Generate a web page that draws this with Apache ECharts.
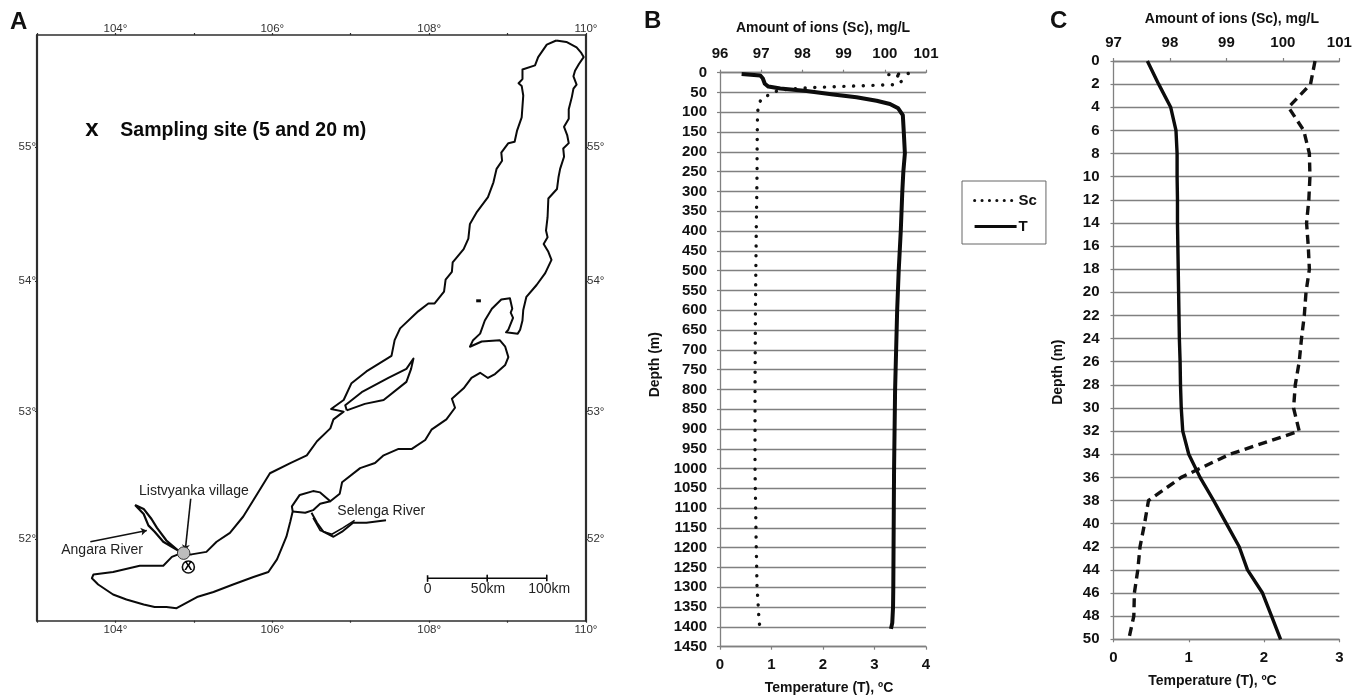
<!DOCTYPE html>
<html>
<head>
<meta charset="utf-8">
<style>html,body{margin:0;padding:0;background:#fff}#c{width:1365px;height:697px}</style>
<script src="https://cdn.jsdelivr.net/npm/echarts@6/dist/echarts.min.js"></script>
</head>
<body>
<div id="c"></div>
<script>
// ---------- Panel A : map (degrees) ----------
const lonTicks = [103,104,105,106,107,108,109,110];
const latTicks = [52,53,54,55];
const lakeLon = [109.62,109.75,109.88,109.94,109.97,109.91,109.86,109.84,109.88,109.84,109.82,109.78,109.78,109.72,109.76,109.78,109.71,109.72,109.67,109.65,109.63,109.52,109.51,109.49,109.51,109.46,109.52,109.56,109.48,109.37,109.24,109.20,109.19,109.16,109.13,108.98,109.01,109.07,109.04,109.06,109.03,108.92,108.80,108.71,108.65,108.56,108.52,108.67,108.90,108.97,109.01,108.97,108.84,108.75,108.65,108.54,108.44,108.29,108.33,108.22,108.03,107.95,107.78,107.61,107.42,107.31,107.12,106.89,106.86,106.74,106.61,106.52,106.35,106.25,106.26,106.23,106.18,106.12,106.06,105.95,105.76,105.50,105.25,105.04,104.78,104.65,104.50,104.36,104.14,103.97,103.78,103.70,103.72,103.97,104.31,104.61,104.72,104.80,104.97,105.16,105.29,105.46,105.63,105.78,105.97,106.23,106.44,106.57,106.74,106.78,106.91,106.75,106.91,107.01,107.20,107.52,107.56,107.63,107.86,107.99,108.07,108.19,108.21,108.29,108.30,108.44,108.50,108.52,108.61,108.75,108.82,108.86,108.93,108.92,109.01,109.09,109.12,109.18,109.20,109.18,109.14,109.19,109.19,109.35,109.39,109.50,109.62];
const lakeLat = [55.78,55.77,55.73,55.69,55.66,55.61,55.56,55.52,55.46,55.43,55.37,55.28,55.21,55.15,55.09,55.03,54.99,54.93,54.84,54.78,54.69,54.62,54.48,54.38,54.33,54.28,54.22,54.16,54.06,53.97,53.88,53.78,53.70,53.63,53.60,53.61,53.63,53.72,53.76,53.79,53.87,53.86,53.79,53.70,53.60,53.55,53.50,53.54,53.55,53.50,53.42,53.36,53.29,53.26,53.30,53.26,53.18,53.10,53.03,52.94,52.86,52.78,52.71,52.71,52.66,52.60,52.56,52.45,52.36,52.30,52.37,52.38,52.35,52.26,52.22,52.14,52.02,51.93,51.84,51.74,51.70,51.64,51.58,51.54,51.45,51.46,51.46,51.48,51.52,51.56,51.64,51.69,51.72,51.74,51.79,51.79,51.86,51.88,51.88,51.90,51.98,52.05,52.18,52.33,52.52,52.60,52.66,52.77,52.87,52.94,53.00,53.02,53.09,53.22,53.31,53.43,53.55,53.64,53.77,53.83,53.83,53.92,54.01,54.07,54.14,54.24,54.32,54.43,54.52,54.63,54.74,54.84,54.90,54.96,55.03,55.04,55.12,55.22,55.38,55.45,55.47,55.50,55.57,55.60,55.66,55.75,55.78];
const olkhonLon = [106.95,107.18,107.42,107.71,107.77,107.80,107.71,107.48,107.14,106.93,106.95];
const olkhonLat = [53.01,53.06,53.09,53.23,53.33,53.41,53.33,53.26,53.15,53.05,53.01];
const isletLon = [108.60,108.66];
const isletLat = [53.85,53.85];
const angaraLon = [104.25,104.36,104.46,104.53,104.65,104.80,104.61,104.50,104.42,104.36,104.25];
const angaraLat = [52.27,52.24,52.16,52.09,51.99,51.91,51.98,52.06,52.11,52.20,52.27];
const deltaLon = [106.74,106.61,106.52,106.42,106.26];
const deltaLat = [52.30,52.28,52.23,52.21,52.22];
const selengaLon = [106.50,106.57,106.65,106.78,106.89,107.03,107.20,107.45];
const selengaLat = [52.21,52.13,52.06,52.02,52.06,52.13,52.13,52.15];
const selenga2Lon = [106.52,106.61,106.76,106.90,107.05];
const selenga2Lat = [52.17,52.07,52.04,52.09,52.15];
const scaleLon = [107.98,107.98,107.98,108.74,108.74,108.74,108.74,109.50,109.50,109.50];
const scaleLat = [51.714,51.666,51.69,51.69,51.714,51.666,51.69,51.69,51.714,51.666];
const mapLabels = ['Listvyanka village','Angara River','Selenga River','0','50km','100km'];
const mapLabelLon = [105.00,103.83,107.39,107.98,108.75,109.53];
const mapLabelLat = [52.38,51.91,52.22,51.60,51.60,51.60];
const village = [104.87,51.89];
const site = [104.93,51.78];
const angaraArrow = [[103.68,51.98],[104.40,52.07]];
const villageArrow = [[104.96,52.32],[104.89,51.91]];

// ---------- Panel B ----------
const depthB_T = [3,7,14,28,35,40,46,55,62,71,79,90,107,153,204,250,300,400,500,600,700,800,900,1000,1100,1200,1300,1350,1390,1405];
const tempB = [0.42,0.78,0.83,0.87,0.94,1.17,1.68,2.20,2.65,3.04,3.30,3.46,3.55,3.57,3.59,3.56,3.54,3.51,3.47,3.44,3.42,3.40,3.39,3.38,3.375,3.37,3.365,3.36,3.345,3.32];
const depthB_Sc = [2,5,10,20,30,35,37,40,44,65,82,107,200,250,400,600,800,1000,1200,1300,1350,1390,1405];
const ionsB = [100.57,100.09,100.41,100.43,100.29,100.25,98.35,97.86,97.42,97.01,96.93,96.91,96.90,96.90,96.88,96.86,96.85,96.85,96.88,96.90,96.93,96.95,96.99];

// ---------- Panel C ----------
const depthC = [0,2,4,6,8,10,12,14,16,18,20,22,24,26,28,30,32,34,36,38,40,42,44,46,48,50];
const tempC = [0.45,0.60,0.76,0.83,0.845,0.845,0.85,0.85,0.855,0.86,0.865,0.87,0.875,0.885,0.89,0.90,0.92,1.00,1.15,1.33,1.50,1.67,1.78,1.98,2.10,2.22];
const ionsC = [100.57,100.49,100.10,100.37,100.47,100.48,100.46,100.42,100.45,100.47,100.41,100.38,100.33,100.29,100.22,100.19,100.29,99.06,98.20,97.62,97.55,97.47,97.43,97.37,97.36,97.27];

const merc = lat => Math.log(Math.tan(Math.PI/4 + lat*Math.PI/360))*180/Math.PI;
const zipMap = (lons,lats) => lons.map((v,i)=>[v,merc(lats[i])]);
const zipDepth = (vals,depths) => vals.map((v,i)=>[v,depths[i]]);
const latOf = v => latTicks.reduce((a,b)=>Math.abs(merc(b)-v)<Math.abs(merc(a)-v)?b:a);
const latValues = latTicks.map(merc);

const FONT = '"Liberation Sans", Arial, sans-serif';
const INK = '#111', GRID = '#808080', FRAME = '#2e2e2e';
const boldLabel = {color:INK,fontFamily:FONT,fontWeight:'bold',fontSize:15};
const nameStyle = {color:INK,fontFamily:FONT,fontWeight:'bold',fontSize:14};
const mapTick = {color:'#333',fontFamily:FONT,fontSize:11.5};
const solid = {opacity:1};

const mapLine = (name,data,w) => ({type:'line',name,xAxisIndex:0,yAxisIndex:0,data,symbol:'none',silent:true,clip:false,
  lineStyle:{color:'#0a0a0a',width:w||2,join:'round'}});

function chartX(gridIndex,position,min,max,name,padding,nameGap){
  return {type:'value',gridIndex,position,min,max,interval:1,name,nameLocation:'middle',nameGap,
    nameTextStyle:Object.assign({padding},nameStyle),splitLine:{show:false},
    axisLine:{show:true,onZero:false,lineStyle:{color:GRID,width:1.3}},
    axisTick:{show:true,length:3,lineStyle:{color:GRID,width:1.2}},
    axisLabel:Object.assign({margin:11,formatter:v=>String(v)},boldLabel)};
}
function chartY(gridIndex,max,interval,nameGap,padding,margin){
  return {type:'value',gridIndex,inverse:true,min:0,max,interval,name:'Depth (m)',nameLocation:'middle',nameGap,
    nameTextStyle:Object.assign({padding},nameStyle),
    splitLine:{show:true,lineStyle:{color:GRID,width:1.3}},
    axisLine:{show:true,onZero:false,lineStyle:{color:GRID,width:1.3}},
    axisTick:{show:true,length:3,lineStyle:{color:GRID,width:1.2}},
    axisLabel:Object.assign({margin,hideOverlap:false,formatter:v=>String(v)},boldLabel)};
}
const lonAxis = (position,margin) => ({type:'value',gridIndex:0,position,min:103,max:110,interval:1,
  splitLine:{show:false},
  axisLine:{show:true,onZero:false,lineStyle:{color:FRAME,width:1.6}},
  axisTick:{show:true,inside:false,length:2,lineStyle:{color:FRAME,width:1.2}},
  axisLabel:Object.assign({margin,formatter:v=>v%2===0?v+'°':''},mapTick)});
const latAxis = position => ({type:'value',gridIndex:0,position,min:merc(51.35),max:merc(55.82),
  splitLine:{show:false},
  axisLine:{show:true,onZero:false,lineStyle:{color:FRAME,width:2.2}},
  axisTick:{show:true,length:2,customValues:latValues,lineStyle:{color:FRAME,width:1.2}},
  axisLabel:Object.assign({margin:1,customValues:latValues,formatter:v=>latOf(v)+'°'},mapTick)});

const option = {
  animation:false,
  backgroundColor:'#fff',
  grid:[
    {left:37,top:35,width:549,height:585.7,outerBoundsMode:'none'},
    {left:720,top:72.7,width:206,height:574,outerBoundsMode:'none'},
    {left:1113.5,top:61,width:225.8,height:578.3,outerBoundsMode:'none'}
  ],
  xAxis:[
    lonAxis('bottom',3),lonAxis('top',0),
    chartX(1,'top',96,101,'Amount of ions (Sc), mg/L',[0,0,0,0],38),
    chartX(1,'bottom',0,4,'Temperature (T), ºC',[0,0,0,12],34),
    chartX(2,'top',97,101,'Amount of ions (Sc), mg/L',[0,0,0,11],35),
    chartX(2,'bottom',0,3,'Temperature (T), ºC',[0,28,0,0],35)
  ],
  yAxis:[
    latAxis('left'),latAxis('right'),
    chartY(1,1450,50,58,[0,10,0,0],13),
    chartY(2,50,2,48,[0,44,0,0],14)
  ],
  legend:{
    left:962,top:181,orient:'vertical',selectedMode:false,
    data:[{name:'Sc',lineStyle:{type:[0.1,7.3],cap:'round',width:3,color:'#111'}},{name:'T',lineStyle:{color:'#0c0c0c',width:3.2}}],
    itemWidth:42,itemHeight:10,itemGap:11,padding:[12,9,10,11],
    itemStyle:{opacity:0},
    borderColor:'#666',borderWidth:1,backgroundColor:'#fff',
    textStyle:{color:INK,fontFamily:FONT,fontWeight:'bold',fontSize:15,padding:[0,0,0,-3]}
  },
  graphic:[
    {type:'text',left:10,top:10,style:{text:'A',font:'bold 24px '+FONT,fill:'#111'}},
    {type:'text',left:644,top:9,style:{text:'B',font:'bold 24px '+FONT,fill:'#111'}},
    {type:'text',left:1050,top:9,style:{text:'C',font:'bold 24px '+FONT,fill:'#111'}}
  ],
  series:[
    mapLine('Lake Baikal',zipMap(lakeLon,lakeLat)),
    mapLine('Olkhon',zipMap(olkhonLon,olkhonLat)),
    mapLine('Islet',zipMap(isletLon,isletLat),3),
    mapLine('Angara River',zipMap(angaraLon,angaraLat),2.2),
    mapLine('Selenga delta',zipMap(deltaLon,deltaLat)),
    mapLine('Selenga River',zipMap(selengaLon,selengaLat)),
    mapLine('Selenga River 2',zipMap(selenga2Lon,selenga2Lat),1.6),
    mapLine('Scale bar',zipMap(scaleLon,scaleLat),1.6),
    {type:'line',name:'Arrows',xAxisIndex:0,yAxisIndex:0,data:[],symbol:'none',silent:true,
     markLine:{silent:true,animation:false,symbol:['none','arrow'],symbolSize:6,label:{show:false},
       lineStyle:{color:'#111',type:'solid',width:1.6},
       data:[angaraArrow,villageArrow].map(a=>a.map(p=>({coord:[p[0],merc(p[1])]})))}},
    {type:'scatter',name:'Listvyanka',xAxisIndex:0,yAxisIndex:0,silent:true,symbol:'circle',symbolSize:12.5,z:5,
     data:[[village[0],merc(village[1])]],itemStyle:{color:'#bdbdbd',borderColor:'#333',borderWidth:1,opacity:1}},
    {type:'scatter',name:'Site',xAxisIndex:0,yAxisIndex:0,silent:true,symbol:'circle',symbolSize:12,z:5,
     data:[[site[0],merc(site[1])]],itemStyle:{color:'#fff',borderColor:'#111',borderWidth:1.6,opacity:1},
     label:{show:true,position:'inside',formatter:'X',color:'#000',fontFamily:FONT,fontSize:12,fontWeight:'bold'}},
    {type:'scatter',name:'Map labels',xAxisIndex:0,yAxisIndex:0,silent:true,symbolSize:0,itemStyle:solid,
     data:mapLabels.map((n,i)=>({name:n,value:[mapLabelLon[i],merc(mapLabelLat[i])]})),
     label:{show:true,position:'inside',formatter:'{b}',color:'#222',fontFamily:FONT,fontSize:14}},
    {type:'scatter',name:'Key',xAxisIndex:0,yAxisIndex:0,silent:true,symbolSize:0,itemStyle:solid,
     data:[{name:'Sampling site (5 and 20 m)',value:[105.63,merc(55.12)]}],
     label:{show:true,position:'inside',formatter:'{b}',color:'#0a0a0a',fontFamily:FONT,fontWeight:'bold',fontSize:19.5}},
    {type:'scatter',name:'Key mark',xAxisIndex:0,yAxisIndex:0,silent:true,symbolSize:0,itemStyle:solid,
     data:[{name:'x',value:[103.70,merc(55.13)]}],
     label:{show:true,position:'inside',formatter:'{b}',color:'#0a0a0a',fontFamily:FONT,fontWeight:'bold',fontSize:24}},

    {type:'line',name:'Sc',xAxisIndex:2,yAxisIndex:2,data:zipDepth(ionsB,depthB_Sc),symbol:'none',silent:true,z:4,
     lineStyle:{color:'#111',width:3.4,type:[0.1,9.6],cap:'round'}},
    {type:'line',name:'T',xAxisIndex:3,yAxisIndex:2,data:zipDepth(tempB,depthB_T),symbol:'none',silent:true,z:4,
     lineStyle:{color:'#0c0c0c',width:4,join:'round'}},
    {type:'line',name:'Sc',xAxisIndex:4,yAxisIndex:3,data:zipDepth(ionsC,depthC),symbol:'none',silent:true,z:4,
     lineStyle:{color:'#111',width:3.4,type:[9,5.5]}},
    {type:'line',name:'T',xAxisIndex:5,yAxisIndex:3,data:zipDepth(tempC,depthC),symbol:'none',silent:true,z:4,
     lineStyle:{color:'#0c0c0c',width:3.4,join:'round'}}
  ]
};
echarts.init(document.getElementById('c'),null,{renderer:'canvas'}).setOption(option);
</script>
</body>
</html>
